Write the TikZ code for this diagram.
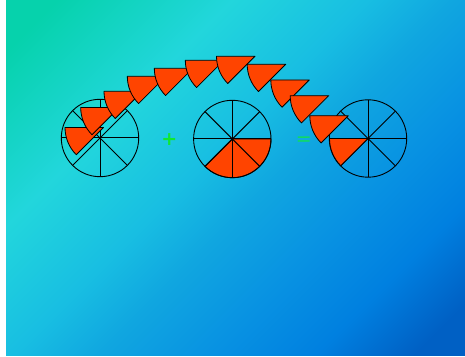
\documentclass[tikz,border=0pt]{standalone}
\usepackage{fontspec}
\newfontfamily\signfont{DejaVu Sans}
\definecolor{bgA}{HTML}{06D2AC}
\definecolor{bgB}{HTML}{22D6DC}
\definecolor{bgC}{HTML}{18BEE2}
\definecolor{bgD}{HTML}{10A6E0}
\definecolor{bgE}{HTML}{0892E2}
\definecolor{bgF}{HTML}{0080E0}
\definecolor{bgG}{HTML}{0060C4}
\definecolor{wedge}{HTML}{FF4400}
\definecolor{plusgreen}{HTML}{10E830}
\definecolor{eqgreen}{HTML}{10DC60}
\pgfdeclarehorizontalshading{bgshade}{100bp}{color(0bp)=(bgA); color(18.9bp)=(bgA); color(34.2bp)=(bgB); color(46bp)=(bgC); color(53.6bp)=(bgD); color(63.2bp)=(bgE); color(72.4bp)=(bgF); color(81.1bp)=(bgG); color(100bp)=(bgG)}
\tikzset{
  wheel/.style={draw=black, line width=0.9pt},
  spoke/.style={draw=black, line width=1pt},
  piece/.style={fill=wedge, draw=black, line width=0.8pt, line join=round},
  signtext/.style={inner sep=0pt, font=\signfont\fontsize{19}{19}\selectfont}
}
\usetikzlibrary{calc}
\newcommand{\wheelat}[2]{%
  \draw[wheel] (#1) circle[radius=#2];
  \foreach \a in {0,45,...,135}{\draw[spoke] ($(#1)+(\a:#2)$) -- ($(#1)+(\a+180:#2)$);}
}
\begin{document}
\begin{tikzpicture}[x=1pt,y=1pt]
\useasboundingbox (0,0) rectangle (465,356);
\shade[shading=bgshade, shading angle=-45] (6,1) rectangle (465,356);
% wheels
\coordinate (c1) at (100,218);
\coordinate (c2) at (232.3,217);
\coordinate (c3) at (368,217.5);
\filldraw[piece] (c2) -- ++(225:38.7) arc[start angle=225,end angle=360,radius=38.7] -- cycle;
\wheelat{c1}{38.7}
\wheelat{c2}{38.7}
\wheelat{c3}{38.7}
% flying pieces
\foreach \p in {(103.5,228.5),(119.2,248.5),(142.5,264.7),(165.8,279.7),(192.8,287.7),(223.8,295.7),(255,299.7),(285.7,291.7),(309.3,276),(328.7,260.3),(348.3,240.3),(368,217.5)}{
  \filldraw[piece] \p -- ++(180:38.5) arc[start angle=180,end angle=225,radius=38.5] -- cycle;
}
% signs
\node[signtext, text=plusgreen, font=\signfont\bfseries\fontsize{19}{19}\selectfont] (plus) at (169.3,216) {+};
\node[signtext, text=eqgreen] (eq) at (303.8,215) {=};
\end{tikzpicture}
\end{document}
